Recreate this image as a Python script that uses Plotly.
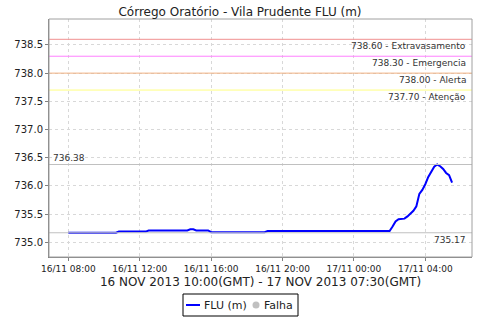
import plotly.graph_objects as go

# ---- data ----
times = [
    "2013-11-16 08:00", "2013-11-16 10:40", "2013-11-16 10:50", "2013-11-16 12:20",
    "2013-11-16 12:30", "2013-11-16 13:30", "2013-11-16 13:40", "2013-11-16 13:50",
    "2013-11-16 14:40", "2013-11-16 14:50", "2013-11-16 15:00", "2013-11-16 15:10",
    "2013-11-16 15:50", "2013-11-16 16:00", "2013-11-16 19:00", "2013-11-16 19:10",
    "2013-11-17 01:50", "2013-11-17 02:00", "2013-11-17 02:10", "2013-11-17 02:20",
    "2013-11-17 02:30", "2013-11-17 02:50", "2013-11-17 03:00", "2013-11-17 03:10",
    "2013-11-17 03:20", "2013-11-17 03:30", "2013-11-17 03:40", "2013-11-17 03:50",
    "2013-11-17 04:00", "2013-11-17 04:10", "2013-11-17 04:20", "2013-11-17 04:30",
    "2013-11-17 04:40", "2013-11-17 04:50", "2013-11-17 05:00", "2013-11-17 05:10",
    "2013-11-17 05:20", "2013-11-17 05:30",
]
levels = [
    735.17, 735.17, 735.19, 735.19,
    735.21, 735.21, 735.22, 735.21,
    735.21, 735.23, 735.23, 735.21,
    735.21, 735.18, 735.18, 735.20,
    735.20, 735.20, 735.28, 735.37,
    735.41, 735.42, 735.46, 735.51,
    735.56, 735.64, 735.86, 735.93,
    736.03, 736.16, 736.26, 736.34,
    736.38, 736.35, 736.30, 736.23,
    736.19, 736.06,
]
threshold_values = [738.60, 738.30, 738.00, 737.70]
threshold_names = ["Extravasamento", "Emergencia", "Alerta", "Atenção"]
threshold_colors = ["#f09090", "#ff80ff", "#f0b080", "#ffff80"]
max_value = 736.38
min_value = 735.17

series_name = "FLU (m)"
fail_name = "Falha"
title = "Córrego Oratório - Vila Prudente FLU (m)"
x_title = "16 NOV 2013 10:00(GMT) - 17 NOV 2013 07:30(GMT)"

FONT = "DejaVu Sans"
LBL = dict(family=FONT, size=9, color="#333333")

# plot-area geometry in pixels (for the hand-drawn legend box)
W, H = 480, 320
ML, MR, MT, MB = 49, 8, 19, 63
PW, PH = W - ML - MR, H - MT - MB


def px(x):
    return (x - ML) / PW


def py(y):
    return (H - MB - y) / PH


fig = go.Figure()
fig.add_trace(go.Scatter(x=times, y=levels, mode="lines", name=series_name,
                         line=dict(color="#0000ff", width=2), showlegend=False))

shapes = []
annotations = []
for v, n, c in zip(threshold_values, threshold_names, threshold_colors):
    shapes.append(dict(type="line", xref="paper", x0=0, x1=1, yref="y", y0=v, y1=v,
                       line=dict(color=c, width=1)))
    annotations.append(dict(xref="paper", x=0.99, yref="y", y=v, xanchor="right",
                            yanchor="top", yshift=0, showarrow=False,
                            text=f"{v:.2f} - {n}", font=LBL))
for v in (max_value, min_value):
    shapes.append(dict(type="line", xref="paper", x0=0, x1=1, yref="y", y0=v, y1=v,
                       line=dict(color="#c0c0c0", width=1)))
annotations.append(dict(xref="paper", x=0.005, yref="y", y=max_value, xanchor="left",
                        yanchor="bottom", showarrow=False, text=f"{max_value:.2f}",
                        font=LBL))
annotations.append(dict(xref="paper", x=0.99, yref="y", y=min_value, xanchor="right",
                        yanchor="top", yshift=0, showarrow=False, text=f"{min_value:.2f}",
                        font=LBL))
# plot border
shapes.append(dict(type="rect", xref="paper", yref="paper", x0=0, x1=1, y0=0, y1=1,
                   line=dict(color="#a0a0a0", width=1), layer="above"))

# legend (box, line sample, dot sample, labels)
shapes.append(dict(type="rect", xref="paper", yref="paper", x0=px(183), x1=px(298),
                   y0=py(316), y1=py(294), line=dict(color="black", width=1),
                   fillcolor="white"))
shapes.append(dict(type="line", xref="paper", yref="paper", x0=px(186), x1=px(200),
                   y0=py(305), y1=py(305), line=dict(color="#0000ff", width=2)))
shapes.append(dict(type="circle", xref="paper", yref="paper", x0=px(252.5), x1=px(259.5),
                   y0=py(308.5), y1=py(301.5), line=dict(color="#c0c0c0", width=0),
                   fillcolor="#c0c0c0"))
legend_font = dict(family=FONT, size=11, color="#222222")
annotations.append(dict(xref="paper", yref="paper", x=px(202), y=py(305), xanchor="left",
                        yanchor="middle", showarrow=False, text=series_name, font=legend_font))
annotations.append(dict(xref="paper", yref="paper", x=px(262), y=py(305), xanchor="left",
                        yanchor="middle", showarrow=False, text=fail_name, font=legend_font))

fig.update_layout(
    width=W, height=H,
    margin=dict(l=ML, r=MR, t=MT, b=MB, autoexpand=False),
    paper_bgcolor="white", plot_bgcolor="white",
    title=dict(text=title, x=0.5, xanchor="center", xref="container",
               y=1 - 12 / 320, yanchor="middle", yref="container",
               font=dict(family=FONT, size=12, color="#222222")),
    font=dict(family=FONT, size=10, color="#222222"),
    shapes=shapes, annotations=annotations,
    showlegend=False,
    xaxis=dict(
        range=["2013-11-16 06:55", "2013-11-17 06:37"], automargin=False,
        type="date", tick0="2013-11-16 08:00", dtick=4 * 3600 * 1000,
        tickformat="%d/%m %H:%M", showgrid=True, gridcolor="#d8d8d8", griddash="3px,3px",
        ticks="outside", ticklen=3, tickcolor="#808080",
        showline=True, linecolor="#808080", linewidth=1, zeroline=False,
        tickfont=dict(family=FONT, size=9, color="#222222"),
        title=dict(text=x_title, standoff=4, font=dict(family=FONT, size=12, color="#222222")),
    ),
    yaxis=dict(
        range=[734.74, 738.96], dtick=0.5, tickformat=".1f", automargin=False,
        showgrid=True, gridcolor="#d8d8d8", griddash="3px,3px",
        ticks="outside", ticklen=3, tickcolor="#808080",
        showline=True, linecolor="#808080", linewidth=1, zeroline=False,
        tickfont=dict(family=FONT, size=10, color="#222222"),
    ),
)

fig.write_html("out.html", config={"displayModeBar": False},
               post_script="document.body.style.margin='0';document.body.style.overflow='hidden';")
